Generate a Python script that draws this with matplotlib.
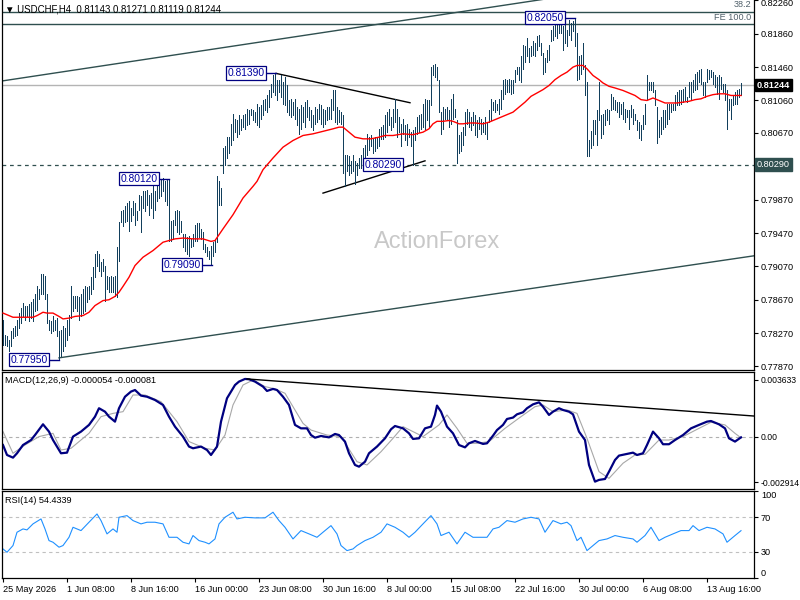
import matplotlib
matplotlib.use("Agg")
import matplotlib.pyplot as plt
import matplotlib.transforms as mtransforms
import numpy as np

plt.rcParams["font.family"] = ["Liberation Sans", "DejaVu Sans"]

BAR = "#123f5c"; RED = "#ff0000"; SLATE = "#2f4f4f"; NAVY = "#000080"; GRAYLN = "#b4b4b4"

# USDCHF H4 bars, high / low in pips (price x 10000), one per 4h bar from 25 May 2026
high_pips = [
    7843, 7825, 7823, 7819, 7829, 7833, 7835, 7843, 7851, 7857,
    7863, 7860, 7859, 7862, 7864, 7868, 7874, 7884, 7880, 7898,
    7898, 7896, 7874, 7843, 7841, 7847, 7843, 7845, 7829, 7831,
    7835, 7833, 7843, 7849, 7884, 7872, 7872, 7872, 7870, 7874,
    7880, 7884, 7882, 7884, 7894, 7906, 7922, 7926, 7922, 7912,
    7916, 7908, 7896, 7894, 7896, 7894, 7896, 7930, 7960, 7973,
    7975, 7980, 7983, 7985, 7977, 7985, 7983, 7973, 7993, 7991,
    7997, 7997, 7999, 7993, 7995, 8005, 7997, 8005, 8003, 8011,
    8013, 8009, 8012, 8011, 7961, 7963, 7973, 7975, 7973, 7961,
    7946, 7946, 7942, 7944, 7940, 7946, 7957, 7959, 7959, 7952,
    7948, 7934, 7930, 7926, 7932, 7936, 7940, 8015, 8009, 8001,
    8049, 8051, 8062, 8062, 8078, 8090, 8084, 8082, 8088, 8084,
    8088, 8090, 8096, 8094, 8096, 8094, 8092, 8102, 8098, 8100,
    8106, 8108, 8112, 8118, 8126, 8136, 8139, 8130, 8130, 8136,
    8128, 8134, 8124, 8106, 8108, 8104, 8108, 8098, 8096, 8100,
    8098, 8104, 8106, 8098, 8094, 8088, 8098, 8096, 8102, 8100,
    8096, 8094, 8098, 8098, 8108, 8118, 8118, 8098, 8094, 8092,
    8088, 8041, 8041, 8039, 8033, 8041, 8033, 8031, 8037, 8041,
    8049, 8053, 8066, 8062, 8064, 8060, 8062, 8062, 8072, 8074,
    8076, 8089, 8092, 8096, 8086, 8096, 8108, 8096, 8086, 8078,
    8084, 8076, 8078, 8072, 8068, 8070, 8074, 8086, 8088, 8090,
    8102, 8108, 8106, 8106, 8146, 8148, 8150, 8146, 8130, 8092,
    8098, 8096, 8098, 8094, 8108, 8114, 8096, 8082, 8064, 8068,
    8074, 8092, 8096, 8092, 8086, 8092, 8088, 8082, 8086, 8084,
    8080, 8086, 8080, 8094, 8108, 8104, 8106, 8102, 8108, 8118,
    8130, 8132, 8130, 8132, 8130, 8130, 8142, 8146, 8146, 8159,
    8173, 8171, 8181, 8169, 8171, 8177, 8175, 8183, 8185, 8175,
    8163, 8157, 8167, 8173, 8191, 8195, 8199, 8197, 8203, 8201,
    8195, 8197, 8191, 8203, 8199, 8201, 8205, 8187, 8159, 8161,
    8175, 8148, 8128, 8059, 8069, 8082, 8082, 8094, 8128, 8088,
    8090, 8094, 8096, 8094, 8114, 8110, 8106, 8104, 8104, 8102,
    8104, 8096, 8094, 8094, 8100, 8096, 8090, 8082, 8080, 8076,
    8088, 8102, 8136, 8128, 8128, 8128, 8118, 8098, 8082, 8086,
    8094, 8094, 8102, 8102, 8102, 8102, 8112, 8116, 8118, 8118,
    8120, 8122, 8110, 8128, 8128, 8130, 8138, 8140, 8142, 8144,
    8128, 8128, 8144, 8142, 8142, 8140, 8136, 8134, 8136, 8134,
    8126, 8126, 8118, 8108, 8108, 8112, 8116, 8118, 8120, 8127,
]
low_pips = [
    7813, 7813, 7811, 7806, 7811, 7821, 7823, 7825, 7833, 7839,
    7847, 7843, 7847, 7841, 7845, 7841, 7853, 7855, 7868, 7874,
    7874, 7868, 7839, 7831, 7827, 7829, 7831, 7823, 7795, 7799,
    7805, 7811, 7819, 7825, 7845, 7853, 7857, 7853, 7843, 7847,
    7851, 7853, 7864, 7868, 7874, 7880, 7894, 7908, 7902, 7896,
    7902, 7866, 7880, 7876, 7876, 7876, 7872, 7870, 7914, 7960,
    7955, 7960, 7962, 7950, 7961, 7969, 7957, 7963, 7975, 7948,
    7977, 7973, 7981, 7969, 7977, 7965, 7975, 7985, 7989, 7991,
    7997, 7985, 7981, 7938, 7938, 7940, 7957, 7948, 7946, 7948,
    7930, 7926, 7922, 7920, 7930, 7932, 7938, 7938, 7942, 7940,
    7928, 7924, 7920, 7916, 7909, 7920, 7924, 7936, 7981, 7981,
    8019, 8029, 8037, 8043, 8053, 8058, 8068, 8062, 8066, 8070,
    8074, 8072, 8076, 8078, 8088, 8082, 8080, 8076, 8074, 8084,
    8088, 8094, 8092, 8098, 8110, 8116, 8112, 8106, 8116, 8110,
    8102, 8100, 8092, 8088, 8086, 8088, 8084, 8076, 8066, 8072,
    8080, 8074, 8086, 8082, 8074, 8070, 8078, 8080, 8084, 8078,
    8074, 8078, 8082, 8084, 8084, 8094, 8080, 8078, 8080, 8078,
    8019, 8003, 8021, 8017, 8019, 8021, 8006, 8017, 8025, 8025,
    8033, 8029, 8041, 8047, 8051, 8043, 8045, 8049, 8051, 8060,
    8060, 8062, 8068, 8076, 8070, 8074, 8080, 8062, 8068, 8051,
    8066, 8058, 8053, 8062, 8051, 8029, 8058, 8066, 8068, 8072,
    8074, 8072, 8082, 8074, 8100, 8136, 8134, 8130, 8092, 8066,
    8072, 8084, 8082, 8074, 8078, 8084, 8086, 8031, 8043, 8045,
    8053, 8064, 8078, 8074, 8070, 8076, 8064, 8062, 8072, 8066,
    8068, 8066, 8060, 8080, 8082, 8094, 8092, 8094, 8090, 8096,
    8108, 8114, 8116, 8116, 8114, 8115, 8128, 8138, 8130, 8128,
    8144, 8152, 8159, 8152, 8159, 8161, 8159, 8167, 8171, 8161,
    8138, 8140, 8152, 8154, 8177, 8179, 8183, 8181, 8187, 8187,
    8167, 8175, 8171, 8185, 8179, 8189, 8171, 8130, 8132, 8138,
    8144, 8112, 8040, 8039, 8049, 8053, 8066, 8053, 8082, 8061,
    8066, 8076, 8082, 8078, 8094, 8096, 8094, 8092, 8086, 8090,
    8084, 8080, 8086, 8072, 8086, 8078, 8082, 8070, 8061, 8059,
    8072, 8078, 8108, 8118, 8118, 8116, 8100, 8055, 8062, 8066,
    8072, 8074, 8078, 8084, 8092, 8094, 8094, 8100, 8100, 8102,
    8104, 8106, 8104, 8110, 8106, 8116, 8118, 8120, 8128, 8126,
    8112, 8110, 8128, 8132, 8134, 8126, 8122, 8114, 8108, 8120,
    8116, 8106, 8072, 8094, 8084, 8100, 8102, 8102, 8110, 8112,
]
last_close = 0.81244

# moving average (red), read at sample bars
ma_bar = [0, 5, 10, 15, 17, 20, 22, 25, 28, 30, 33, 36, 40, 43, 46, 50, 53, 56, 58, 60,
          63, 66, 70, 75, 80, 83, 86, 90, 95, 100, 104, 106, 110, 115, 120, 125, 127, 130,
          135, 140, 145, 150, 155, 160, 165, 168, 170, 173, 176, 180, 184, 188, 191, 195,
          200, 205, 210, 213, 215, 217, 220, 223, 225, 228, 230, 233, 236, 240, 243, 246,
          250, 253, 255, 258, 261, 264, 267, 270, 273, 276, 279, 282, 285, 287, 290, 292,
          295, 298, 300, 303, 306, 310, 313, 316, 319, 322, 325, 328, 331, 334, 337, 340,
          343, 346, 349, 352, 355, 358, 361, 364, 367, 369]
ma_pips = [7851, 7846, 7846, 7846, 7848, 7852, 7851, 7851, 7847, 7844, 7845, 7847, 7848, 7852,
           7860, 7866, 7867, 7871, 7876, 7883, 7894, 7908, 7918, 7926, 7936, 7938, 7940, 7941,
           7940, 7940, 7937, 7938, 7952, 7969, 7989, 8003, 8009, 8023, 8037, 8050, 8058, 8064,
           8066, 8069, 8072, 8074, 8074, 8068, 8062, 8060, 8060, 8062, 8064, 8064, 8066, 8065,
           8068, 8072, 8078, 8081, 8081, 8082, 8081, 8078, 8078, 8079, 8079, 8078, 8080, 8083,
           8087, 8090, 8092, 8098, 8104, 8111, 8115, 8119, 8124, 8131, 8136, 8140, 8146, 8148,
           8148, 8144, 8136, 8131, 8127, 8123, 8121, 8118, 8115, 8112, 8107, 8106, 8109, 8106,
           8103, 8103, 8103, 8104, 8105, 8107, 8108, 8111, 8113, 8114, 8114, 8112, 8112, 8112]

# MACD(12,26,9) main and signal, in units of 1e-4
macd_bar = [0, 2, 5, 7, 10, 14, 16, 20, 23, 25, 29, 32, 35, 39, 43, 46, 48, 51, 53, 56, 58,
            61, 64, 66, 69, 72, 76, 80, 83, 86, 90, 93, 95, 99, 102, 104, 107, 109, 112, 116,
            118, 121, 123, 126, 130, 132, 135, 137, 140, 143, 146, 149, 152, 154, 156, 159,
            163, 166, 168, 171, 173, 176, 178, 181, 183, 187, 191, 194, 196, 200, 203, 205,
            208, 211, 214, 216, 217, 219, 222, 225, 228, 231, 233, 236, 240, 242, 245, 247,
            250, 252, 255, 257, 260, 262, 265, 268, 270, 273, 275, 278, 280, 283, 285, 288,
            291, 293, 296, 298, 301, 303, 306, 308, 311, 315, 317, 320, 322, 325, 328, 330,
            333, 336, 340, 344, 348, 352, 354, 358, 361, 363, 366, 369]
macd_val = [-5.4, -11.8, -13.5, -10.7, -5.4, -2.2, 1.0, 7.9, 3.2, -2.2, -10.7, -10.3, 0.0, 3.2,
            7.5, 12.8, 18.2, 16.0, 12.8, 9.6, 18.2, 25.6, 28.9, 29.9, 26.3, 25.6, 23.5, 20.3,
            12.8, 6.4, 0.0, -6.4, -7.5, -6.4, -8.6, -11.8, -6.4, 9.6, 24.6, 33.1, 35.3, 37.0,
            36.8, 35.3, 32.1, 29.3, 30.6, 29.9, 25.6, 20.3, 7.5, 5.3, 5.3, 1.0, -0.7, 0.4, -0.5,
            1.7, 1.0, -3.2, -10.7, -18.2, -19.3, -16.1, -10.7, -6.4, -1.1, 4.7, 6.8, 5.3, 2.1,
            -1.5, -1.1, 5.3, 6.4, 13.9, 19.9, 16.0, 6.4, 2.1, -5.4, -6.9, -4.3, -2.8, -4.7,
            -4.3, 0.6, 4.2, 7.5, 11.3, 12.2, 14.3, 15.6, 18.2, 20.7, 22.0, 19.2, 13.9, 16.0,
            18.2, 17.1, 16.0, 14.3, 3.2, -2.2, -18.2, -28.9, -27.8, -27.2, -22.5, -15.0, -12.2,
            -11.4, -10.3, -11.8, -10.7, -5.4, 3.2, -1.1, -4.9, -4.9, -2.2, 1.0, 5.3, 7.5, 9.6,
            10.0, 7.9, 5.3, -1.1, -3.2, -0.5]
signal_bar = [0, 5, 11, 18, 25, 29, 34, 43, 49, 55, 60, 65, 71, 79, 87, 93, 101, 106, 111, 115,
              120, 125, 131, 136, 141, 145, 150, 154, 162, 169, 177, 182, 189, 195, 200, 205,
              210, 218, 222, 227, 232, 237, 243, 251, 259, 266, 270, 275, 282, 287, 292, 298,
              303, 310, 316, 321, 328, 333, 340, 348, 354, 361, 366, 369]
signal_val = [3.2, -10.7, -5.4, 0.0, 2.1, -8.6, -7.5, 2.1, 12.8, 14.9, 16.0, 26.7, 26.7, 22.4,
              9.6, -3.2, -7.5, -8.6, 1.0, 20.3, 33.1, 36.3, 32.1, 30.6, 27.8, 19.2, 8.5, 4.2,
              1.0, 0.0, -16.1, -18.2, -9.7, -1.1, 6.4, 3.2, 0.0, 7.5, 13.9, 5.3, -4.3, -4.3,
              -3.2, 5.3, 12.8, 19.2, 20.3, 16.0, 17.1, 14.9, -1.1, -22.5, -26.8, -17.1, -11.8,
              -11.4, -2.2, -2.2, 0.0, 5.3, 9.2, 7.5, 2.1, -0.8]

# RSI(14)
rsi_bar = [0, 2, 5, 7, 10, 12, 15, 19, 21, 23, 25, 28, 30, 33, 35, 39, 43, 47, 49, 52, 55, 57,
           58, 62, 65, 69, 72, 76, 80, 83, 87, 90, 93, 95, 98, 101, 103, 106, 108, 111, 115,
           117, 121, 126, 131, 135, 138, 141, 145, 149, 153, 157, 160, 164, 167, 169, 172, 175,
           177, 181, 185, 189, 192, 196, 200, 203, 206, 210, 214, 217, 219, 223, 227, 231, 235,
           238, 242, 245, 248, 252, 256, 260, 264, 268, 271, 275, 279, 282, 284, 287, 289, 292,
           296, 298, 302, 306, 310, 315, 317, 321, 324, 328, 331, 335, 339, 343, 345, 348, 352,
           356, 360, 362, 366, 369]
rsi_val = [33.4, 29.6, 37.3, 52.6, 56.4, 55.3, 62.2, 67.9, 56.4, 43.0, 41.1, 35.4, 37.3, 46.8,
           58.3, 54.5, 64.1, 73.6, 66.0, 50.7, 56.4, 52.6, 69.8, 71.7, 66.0, 62.2, 64.1, 64.1,
           62.2, 46.8, 46.8, 41.1, 39.2, 48.8, 43.0, 41.1, 39.2, 44.9, 62.2, 69.8, 75.6, 67.9,
           69.8, 69.1, 69.1, 75.6, 66.0, 58.3, 44.9, 54.5, 50.7, 46.8, 52.6, 60.2, 50.7, 37.3,
           31.5, 33.4, 37.3, 43.0, 46.8, 52.6, 62.2, 58.3, 52.6, 46.8, 52.6, 62.2, 71.7, 62.2,
           48.8, 52.6, 39.2, 52.6, 46.8, 46.8, 46.8, 56.4, 58.3, 66.0, 64.1, 67.9, 69.8, 67.9,
           52.6, 66.0, 62.2, 64.1, 60.2, 43.0, 46.8, 31.5, 39.2, 43.0, 44.9, 48.8, 46.8, 44.9,
           41.1, 48.8, 58.3, 43.0, 46.8, 50.7, 54.5, 54.5, 60.2, 54.5, 58.3, 56.4, 50.7, 41.1,
           48.8, 54.4]

# marked swing levels: text, price, bar the pointer ends at
swing_text = ["0.81390", "0.82050", "0.80120", "0.79090", "0.77950", "0.80290"]
swing_price = [0.8139, 0.8205, 0.8012, 0.7909, 0.7795, 0.8029]
swing_bar = [136.5, 286, 83, 104.5, 28, 205]

price_ticks = [0.82260, 0.81860, 0.81460, 0.81060, 0.80670, 0.79870, 0.79470,
               0.79070, 0.78670, 0.78270, 0.77870]
date_bars = [0, 32, 64, 96, 128, 160, 192, 224, 256, 288, 320, 352]
date_labels = ["25 May 2026", "1 Jun 08:00", "8 Jun 16:00", "16 Jun 00:00", "23 Jun 08:00",
               "30 Jun 16:00", "8 Jul 00:00", "15 Jul 08:00", "22 Jul 16:00", "30 Jul 00:00",
               "6 Aug 08:00", "13 Aug 16:00"]

high = np.array(high_pips) / 1e4
low = np.array(low_pips) / 1e4
bars = np.arange(len(high))
XLIM = (-0.5, 375.5)

fig = plt.figure(figsize=(8, 6), dpi=100, facecolor="white")
ax = fig.add_axes([2 / 800, 230 / 600, 752 / 800, 370 / 600])
axm = fig.add_axes([2 / 800, 111 / 600, 752 / 800, 117 / 600])
axr = fig.add_axes([2 / 800, 22 / 600, 752 / 800, 87 / 600])

for a in (ax, axm, axr):
    a.set_xlim(*XLIM)
    for s in a.spines.values():
        s.set_color("black"); s.set_linewidth(0.9)
    a.yaxis.tick_right()
    a.tick_params(axis="y", direction="out", length=3, labelsize=6.6, pad=2, colors="black")
    a.tick_params(axis="x", bottom=False, labelbottom=False)
ax.spines["top"].set_visible(False)

# ---- price panel ----
ax.set_ylim(0.778273, 0.822652)
ax.set_yticks(price_ticks)
ax.set_yticklabels([f"{v:.5f}" for v in price_ticks])
top_lbl = ax.get_yticklabels()[0]
top_lbl.set_transform(top_lbl.get_transform()
                      + mtransforms.ScaledTranslation(0, -1.5 / 72, fig.dpi_scale_trans))

ax.text(0.578, 0.346, "ActionForex", transform=ax.transAxes, fontsize=17,
        color="#c8c8c8", ha="center", va="center", zorder=0)

ax.axhline(last_close, color=GRAYLN, lw=1, zorder=1)
ax.axhline(0.8029, color=SLATE, lw=0.9, ls=(0, (3, 3)), zorder=1)
ax.axhline(0.82127, color=SLATE, lw=1, zorder=1)
ax.axhline(0.81979, color=SLATE, lw=1, zorder=1)
ax.text(374, 0.82127 + 0.00025, "38.2", ha="right", va="bottom", fontsize=6.6, color="#50606a")
ax.text(374, 0.81979 + 0.00025, "FE 100.0", ha="right", va="bottom", fontsize=6.6, color="#50606a")

# channel lines
up_slope = (0.82014 - 0.81294) / 199
ax.plot([-0.5, 375.5], [0.81294, 0.81294 + up_slope * 376], color=SLATE, lw=1, zorder=2)
ax.plot([28, 375.5], [0.77973, 0.79197], color=SLATE, lw=1, zorder=2)
# triangle
ax.plot([136.5, 203.5], [0.81385, 0.81033], color="black", lw=1, zorder=2)
ax.plot([160, 211], [0.79949, 0.80336], color="black", lw=1, zorder=2)

ax.vlines(bars, low, high, colors=BAR, lw=0.72, antialiased=False, zorder=3)
ax.plot(ma_bar, np.array(ma_pips) / 1e4, color=RED, lw=1.0, zorder=4)

for t, p, b in zip(swing_text, swing_price, swing_bar):
    if t != "0.80290":
        ax.plot([b - 5, b], [p, p], color=NAVY, lw=1, zorder=5)
    ax.text(b - 5.8, p, t, ha="right", va="center", fontsize=7.4, color="#0000a0", zorder=6,
            bbox=dict(boxstyle="square,pad=0.15", fc="white", ec=NAVY, lw=0.9))

ax.text(0.004, 0.973, "\u25bc USDCHF,H4  0.81143 0.81271 0.81119 0.81244",
        transform=ax.transAxes, fontsize=6.9, color="black", va="center", ha="left")

tr = mtransforms.blended_transform_factory(ax.transAxes, ax.transData)
ax.text(1.004, last_close, "0.81244", transform=tr, fontsize=6.6, color="white", ha="left",
        va="center", fontweight="bold", bbox=dict(boxstyle="square,pad=0.2", fc="black", ec="black"))
ax.text(1.004, 0.8029, "0.80290", transform=tr, fontsize=6.6, color="white", ha="left",
        va="center", bbox=dict(boxstyle="square,pad=0.2", fc=SLATE, ec=SLATE))

# ---- MACD panel ----
axm.set_ylim(-0.003363, 0.004146)
axm.set_yticks([0.003633, 0.0, -0.002914])
axm.set_yticklabels(["0.003633", "0.00", "-0.002914"])
axm.tick_params(axis="y", labelsize=6.2, pad=1.5)
axm.axhline(0, color="#b0b0b0", lw=0.8, ls=(0, (3, 3)))
axm.plot(signal_bar, np.array(signal_val) / 1e4, color="#a8a8a8", lw=0.8)
axm.plot(macd_bar, np.array(macd_val) / 1e4, color=NAVY, lw=1.6)
axm.plot([122, 375.5], [0.0037, 0.00132], color="black", lw=1)
axm.text(0.004, 0.925, "MACD(12,26,9) -0.000054 -0.000081", transform=axm.transAxes,
         fontsize=6.6, va="center", ha="left")

# ---- RSI panel ----
axr.set_ylim(0, 100)
axr.set_yticks([100, 70, 30, 0])
axr.set_yticklabels(["100", "70", "30", "0"])
for lbl, v in zip(axr.get_yticklabels(), [100, 70, 30, 0]):
    if v == 100:
        lbl.set_va("top")
    elif v == 0:
        lbl.set_va("bottom")
axr.axhline(70, color="#c0c0c0", lw=0.8, ls=(0, (3, 3)))
axr.axhline(30, color="#c0c0c0", lw=0.8, ls=(0, (3, 3)))
axr.plot(rsi_bar, rsi_val, color="#1e90ff", lw=0.8)
axr.text(0.004, 0.895, "RSI(14) 54.4339", transform=axr.transAxes, fontsize=6.6,
         va="center", ha="left")
axr.set_xticks(date_bars)
axr.set_xticklabels(date_labels)
axr.tick_params(axis="x", bottom=True, labelbottom=True, direction="out", length=3,
                labelsize=6.6, pad=2)
for lbl in axr.get_xticklabels():
    lbl.set_ha("left")

fig.savefig("out.png", dpi=100, facecolor="white")
